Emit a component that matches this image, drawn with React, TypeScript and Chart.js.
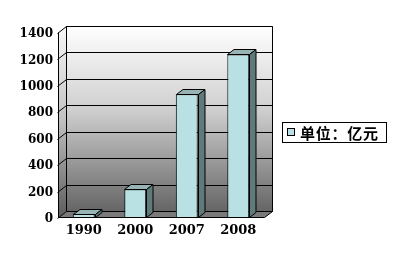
import { useEffect, useRef } from "react";
import { Chart, registerables } from "chart.js";

Chart.register(...registerables);

// Data
const categories = ["1990", "2000", "2007", "2008"];
const values = [26, 210, 928, 1230];
const seriesLabel = "单位：亿元";
const yMin = 0;
const yMax = 1400;
const yStep = 200;

// 3D look
const WALL_DX = 8;
const WALL_DY = -6;
const BAR_DX = 6.5;
const BAR_DY = -5;
const BAR_FRONT = "#B9E0E3";
const BAR_TOP = "#98B3B4";
const BAR_SIDE = "#5E7A7B";

const threeD = {
  id: "threeD",
  beforeDatasetsDraw(chart: any) {
    const { ctx, chartArea: a, scales } = chart;
    const y = scales.y;
    const L = a.left + 0.5;
    const R = a.right + 0.5;
    const T = a.top + 0.5;
    const B = a.bottom + 0.5;
    ctx.save();

    // back wall
    const g = ctx.createLinearGradient(0, T + WALL_DY, 0, B + WALL_DY);
    g.addColorStop(0, "#ffffff");
    g.addColorStop(0.45, "#cfcfcf");
    g.addColorStop(1, "#656565");
    ctx.fillStyle = g;
    ctx.fillRect(L + WALL_DX, T + WALL_DY, R - L, B - T);

    // side wall
    const gs = ctx.createLinearGradient(0, T, 0, B);
    gs.addColorStop(0, "#f4f4f4");
    gs.addColorStop(0.45, "#c4c4c4");
    gs.addColorStop(1, "#5c5c5c");
    ctx.fillStyle = gs;
    ctx.beginPath();
    ctx.moveTo(L, T);
    ctx.lineTo(L + WALL_DX, T + WALL_DY);
    ctx.lineTo(L + WALL_DX, B + WALL_DY);
    ctx.lineTo(L, B);
    ctx.closePath();
    ctx.fill();

    // floor
    ctx.fillStyle = "#7a7a7a";
    ctx.beginPath();
    ctx.moveTo(L, B);
    ctx.lineTo(L + WALL_DX, B + WALL_DY);
    ctx.lineTo(R + WALL_DX, B + WALL_DY);
    ctx.lineTo(R, B);
    ctx.closePath();
    ctx.fill();

    // grid lines across side wall and back wall
    ctx.strokeStyle = "#000";
    ctx.lineWidth = 1;
    for (let v = yMin; v <= yMax; v += yStep) {
      const yy = Math.round(y.getPixelForValue(v)) + 0.5;
      ctx.beginPath();
      ctx.moveTo(L - 1, yy + 1);
      ctx.lineTo(L + WALL_DX, yy + WALL_DY);
      ctx.lineTo(R + WALL_DX, yy + WALL_DY);
      ctx.stroke();
    }

    // edges
    ctx.beginPath();
    ctx.moveTo(L, T);
    ctx.lineTo(L, B);
    ctx.lineTo(R, B);
    ctx.lineTo(R + WALL_DX, B + WALL_DY);
    ctx.lineTo(R + WALL_DX, T + WALL_DY);
    ctx.lineTo(L + WALL_DX, T + WALL_DY);
    ctx.lineTo(L + WALL_DX, B + WALL_DY);
    ctx.stroke();
    ctx.restore();
  },
  afterDatasetsDraw(chart: any) {
    const { ctx } = chart;
    const meta = chart.getDatasetMeta(0);
    ctx.save();
    ctx.strokeStyle = "#000";
    ctx.lineWidth = 1;
    ctx.lineJoin = "round";
    meta.data.forEach((bar: any) => {
      const { x, y, base, width } = bar.getProps(["x", "y", "base", "width"], true);
      const l = Math.round(x - width / 2) + 0.5;
      const r = Math.round(x + width / 2) + 0.5;
      const t = Math.round(y) + 0.5;
      const b = Math.round(base) + 0.5;
      // top face
      ctx.fillStyle = BAR_TOP;
      ctx.beginPath();
      ctx.moveTo(l, t);
      ctx.lineTo(l + BAR_DX, t + BAR_DY);
      ctx.lineTo(r + BAR_DX, t + BAR_DY);
      ctx.lineTo(r, t);
      ctx.closePath();
      ctx.fill();
      ctx.stroke();
      // side face
      ctx.fillStyle = BAR_SIDE;
      ctx.beginPath();
      ctx.moveTo(r, t);
      ctx.lineTo(r + BAR_DX, t + BAR_DY);
      ctx.lineTo(r + BAR_DX, b + BAR_DY);
      ctx.lineTo(r, b);
      ctx.closePath();
      ctx.fill();
      ctx.stroke();
    });
    ctx.restore();
  },
  afterDraw(chart: any) {
    const { ctx } = chart;
    ctx.save();
    // legend box
    ctx.fillStyle = "#fff";
    ctx.strokeStyle = "#000";
    ctx.lineWidth = 1;
    ctx.fillRect(282.5, 122.5, 104, 20);
    ctx.strokeRect(282.5, 122.5, 104, 20);
    ctx.fillStyle = BAR_FRONT;
    ctx.fillRect(287.5, 128.5, 7, 7);
    ctx.strokeRect(287.5, 128.5, 7, 7);
    ctx.fillStyle = "#000";
    ctx.font = "bold 15px \"Noto Sans CJK SC\"";
    ctx.textBaseline = "middle";
    ctx.textAlign = "left";
    const label = chart.data.datasets[0].label;
    const natural = ctx.measureText(label).width;
    const target = 78;
    const chars = Array.from(label as string);
    const gap = chars.length > 1 ? (target - natural) / (chars.length - 1) : 0;
    let cx = 300;
    for (const ch of chars) {
      ctx.fillText(ch, cx, 133);
      cx += ctx.measureText(ch).width + gap;
    }
    ctx.restore();
  },
};

export default function App() {
  const ref = useRef<HTMLCanvasElement | null>(null);

  useEffect(() => {
    if (!ref.current) return;
    const chart = new Chart(ref.current, {
      type: "bar",
      data: {
        labels: categories,
        datasets: [
          {
            label: seriesLabel,
            data: values,
            backgroundColor: BAR_FRONT,
            borderColor: "#000",
            borderWidth: 1,
            barPercentage: 0.85,
            categoryPercentage: 0.5,
          },
        ],
      },
      options: {
        responsive: false,
        animation: false,
        layout: { padding: { top: 32, right: 133, left: 0, bottom: 0 } },
        plugins: { legend: { display: false }, tooltip: { enabled: false } },
        scales: {
          x: {
            grid: { display: false, drawTicks: false },
            border: { display: false },
            ticks: {
              color: "#000",
              padding: 6,
              font: { family: "'DejaVu Serif'", weight: "bold", size: 13 },
            },
            afterFit: (s: any) => {
              s.height = 47;
            },
          },
          y: {
            min: yMin,
            max: yMax,
            grid: { display: false, drawTicks: false },
            border: { display: false },
            ticks: {
              stepSize: yStep,
              color: "#000",
              padding: 5,
              labelOffset: 2,
              font: { family: "'DejaVu Serif'", weight: "bold", size: 12 },
              callback: (v: any) => String(v),
            },
            afterFit: (s: any) => {
              s.width = 58;
            },
          },
        },
      },
      plugins: [threeD],
    });
    return () => chart.destroy();
  }, []);

  return (
    <div style={{ position: "fixed", left: 0, top: 0, width: 397, height: 264, background: "#fff" }}>
      <canvas ref={ref} width={397} height={264} style={{ display: "block" }} />
    </div>
  );
}
